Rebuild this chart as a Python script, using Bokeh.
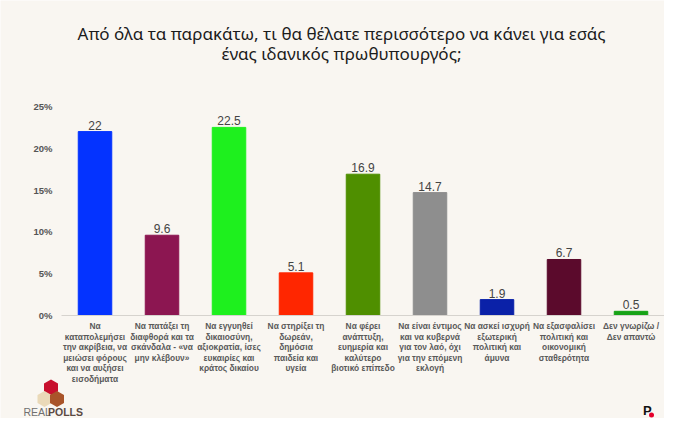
from bokeh.plotting import figure
from bokeh.models import Range1d, ColumnDataSource
from bokeh.core.properties import value
from bokeh.embed import file_html
from bokeh.resources import INLINE

# ---- data ----
categories = [
    "Να\nκαταπολεμήσει\nτην ακρίβεια, να\nμειώσει φόρους\nκαι να αυξήσει\nεισοδήματα",
    "Να πατάξει τη\nδιαφθορά και τα\nσκάνδαλα - «να\nμην κλέβουν»",
    "Να εγγυηθεί\nδικαιοσύνη,\nαξιοκρατία, ίσες\nευκαιρίες και\nκράτος δικαίου",
    "Να στηρίξει τη\nδωρεάν,\nδημόσια\nπαιδεία και\nυγεία",
    "Να φέρει\nανάπτυξη,\nευημερία και\nκαλύτερο\nβιοτικό επίπεδο",
    "Να είναι έντιμος\nκαι να κυβερνά\nγια τον λαό, όχι\nγια την επόμενη\nεκλογή",
    "Να ασκεί ισχυρή\nεξωτερική\nπολιτική και\nάμυνα",
    "Να εξασφαλίσει\nπολιτική και\nοικονομική\nσταθερότητα",
    "Δεν γνωρίζω /\nΔεν απαντώ",
]
values = [22, 9.6, 22.5, 5.1, 16.9, 14.7, 1.9, 6.7, 0.5]
value_labels = ["22", "9.6", "22.5", "5.1", "16.9", "14.7", "1.9", "6.7", "0.5"]
colors = ["#0433ff", "#8c1651", "#1ef01e", "#ff2600", "#4f8f00",
          "#8e8e8e", "#0a21a8", "#5b0a2c", "#17a317"]
y_ticks = [0, 5, 10, 15, 20, 25]
y_tick_labels = ["0%", "5%", "10%", "15%", "20%", "25%"]
title_lines = ["Από όλα τα παρακάτω, τι θα θέλατε περισσότερο να κάνει για εσάς",
               "ένας ιδανικός πρωθυπουργός;"]

BG = "#f9f6f1"
W, H = 664, 418
n = len(categories)

# pixel <-> data helpers for decoration placement (category i centred at x=i)
X0_PX, X_STEP = 94.5, 67.0
Y0_PX, Y_STEP = 315.0, 8.36
def dx(px):
    return (px - X0_PX) / X_STEP
def dy(py):
    return (Y0_PX - py) / Y_STEP

p = figure(width=W, height=H, output_backend="svg", toolbar_location=None,
           x_range=Range1d(dx(0), dx(W)), y_range=Range1d(dy(H), dy(0)),
           x_axis_location=None, y_axis_location=None,
           min_border=0, min_border_left=0, min_border_right=0,
           min_border_top=0, min_border_bottom=0,
           background_fill_color=BG, border_fill_color=BG, outline_line_color=None)
p.xgrid.visible = False
p.ygrid.visible = False

xpos = list(range(n))
src = ColumnDataSource(dict(x=xpos, cat=categories, val=values, lab=value_labels, col=colors))

# bars
p.vbar(x="x", top="val", bottom=0, width=0.5, color="col", source=src)

# baseline (category axis line)
p.segment(x0=[-0.5], y0=[0], x1=[n - 0.5 + 0.1], y1=[0], line_color="#d6d3ce", line_width=1)

# value labels
p.text(x="x", y="val", text="lab", source=src, text_align="center",
       text_baseline="bottom", y_offset=-2, text_font=value("Liberation Sans"),
       text_font_size="12px", text_color="#444444")

# category labels
p.text(x="x", y=dy(320.5), text="cat", source=src, text_align="center",
       text_baseline="top", text_font=value("Liberation Sans"),
       text_font_size="8.4px", text_font_style="bold", text_color="#5a5a5a",
       text_line_height=1.06)

# y tick labels (value axis)
p.text(x=[-0.5] * len(y_ticks), y=y_ticks, text=y_tick_labels, x_offset=-9,
       text_align="right", text_baseline="middle", text_font=value("Liberation Sans"),
       text_font_size="9.5px", text_font_style="bold", text_color="#555555")

# title
p.text(x=[dx(341), dx(341)], y=[dy(33), dy(53)], text=title_lines,
       text_align="center", text_baseline="middle",
       text_font=value("Noto Sans"), text_font_size="17px", text_color="#1c1c1c")

# --- logos (decoration) ---
def hexa(cx, cy, r=7, h=8):
    xs = [cx, cx + r, cx + r, cx, cx - r, cx - r]
    ys = [cy - h, cy - h / 2, cy + h / 2, cy + h, cy + h / 2, cy - h / 2]
    return [dx(v) for v in xs], [dy(v) for v in ys]

hx, hy, hc = [], [], []
for (cx, cy, c) in [(50.5, 387, "#c8102e"), (44, 398.5, "#ead9b8"), (56.5, 398.5, "#a9542a")]:
    a, b = hexa(cx, cy)
    hx.append(a); hy.append(b); hc.append(c)
p.patches(xs=hx, ys=hy, fill_color=hc, line_color=None)

p.text(x=[dx(23)], y=[dy(411.5)], text=["REAL"], text_baseline="middle",
       text_font=value("Liberation Sans"), text_font_size="10.5px", text_color="#707070")
p.text(x=[dx(47.5)], y=[dy(411.5)], text=["POLLS"], text_baseline="middle",
       text_font=value("Liberation Sans"), text_font_size="10.5px",
       text_font_style="bold", text_color="#5b4a43")
p.text(x=[dx(642.5)], y=[dy(410)], text=["P"], text_baseline="middle",
       text_font=value("Liberation Sans"), text_font_size="13px",
       text_font_style="bold", text_color="#111111")
p.scatter(x=[dx(651)], y=[dy(414.5)], size=5, color="#e5002b", line_color=None)

open("out.html", "w").write(file_html(p, INLINE))
